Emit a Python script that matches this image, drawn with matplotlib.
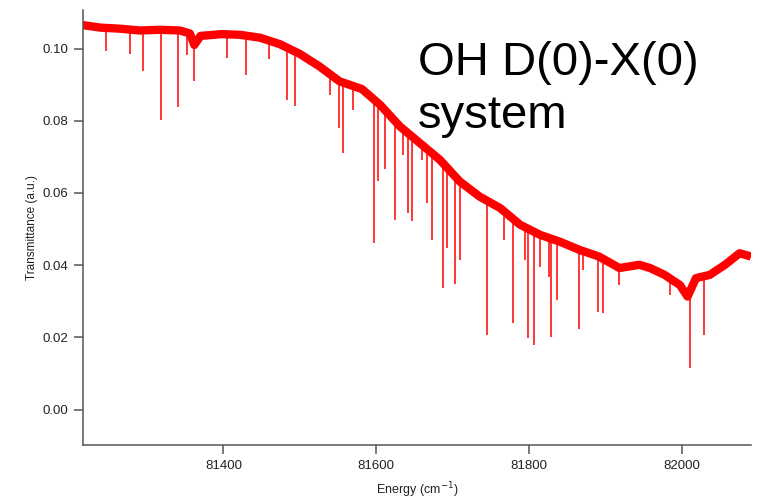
import matplotlib
matplotlib.use('Agg')
import matplotlib.pyplot as plt
import numpy as np

plt.rcParams['font.family'] = ['Liberation Sans', 'DejaVu Sans']

# continuum (centre of the noisy trace)
base_energy = [81216, 81239, 81265, 81291, 81317, 81343, 81356, 81362, 81370,
               81398, 81422, 81448, 81474, 81500, 81526, 81552, 81581, 81605,
               81631, 81657, 81683, 81709, 81735, 81762, 81788, 81814, 81840,
               81866, 81891, 81918, 81944, 81958, 81977, 81997, 82007, 82018,
               82036, 82056, 82075, 82090]
base_trans = [0.1065, 0.1058, 0.1055, 0.1050, 0.1052, 0.1050, 0.1042, 0.1010, 0.1035,
              0.1040, 0.1038, 0.1030, 0.1012, 0.0985, 0.0950, 0.0909, 0.0888, 0.0844,
              0.0784, 0.0738, 0.0692, 0.0632, 0.0590, 0.0558, 0.0512, 0.0484, 0.0465,
              0.0442, 0.0424, 0.0392, 0.0401, 0.0392, 0.0373, 0.0345, 0.0313, 0.0364,
              0.0373, 0.0401, 0.0433, 0.0424]

# absorption lines: position, continuum at the line, bottom of the dip
line_energy = [81246.5, 81277.5, 81295.0, 81319.0, 81340.5, 81352.5, 81361.5, 81404.5,
               81430.0, 81459.5, 81483.5, 81494.0, 81540.0, 81551.5, 81556.0, 81569.0,
               81597.5, 81602.0, 81611.0, 81625.0, 81634.5, 81641.5, 81646.5, 81659.5,
               81666.5, 81673.0, 81687.0, 81693.0, 81702.5, 81709.0, 81744.5, 81766.5,
               81778.5, 81794.0, 81798.5, 81806.0, 81814.5, 81825.5, 81829.0, 81836.0,
               81864.5, 81870.0, 81890.5, 81896.5, 81917.0, 81984.0, 82010.5, 82029.0]
line_top = [0.1057, 0.1052, 0.1050, 0.1052, 0.1050, 0.1045, 0.1010, 0.1040,
            0.1036, 0.1025, 0.1003, 0.0991, 0.0928, 0.0910, 0.0905, 0.0897,
            0.0858, 0.0851, 0.0830, 0.0800, 0.0778, 0.0766, 0.0756, 0.0734,
            0.0722, 0.0710, 0.0683, 0.0670, 0.0648, 0.0632, 0.0578, 0.0550,
            0.0528, 0.0505, 0.0500, 0.0493, 0.0484, 0.0476, 0.0474, 0.0468,
            0.0443, 0.0439, 0.0424, 0.0418, 0.0393, 0.0366, 0.0330, 0.0370]
line_min = [0.0992, 0.0985, 0.0939, 0.0802, 0.0839, 0.0983, 0.0909, 0.0973,
            0.0927, 0.0971, 0.0858, 0.0841, 0.0872, 0.0779, 0.0712, 0.0830,
            0.0461, 0.0632, 0.0666, 0.0525, 0.0706, 0.0544, 0.0521, 0.0692,
            0.0572, 0.0470, 0.0336, 0.0447, 0.0348, 0.0415, 0.0207, 0.0470,
            0.0241, 0.0415, 0.0198, 0.0179, 0.0396, 0.0368, 0.0202, 0.0304,
            0.0224, 0.0387, 0.0271, 0.0267, 0.0345, 0.0318, 0.0115, 0.0207]

x_ticks = [81400, 81600, 81800, 82000]
y_ticks = [0.00, 0.02, 0.04, 0.06, 0.08, 0.10]

fig = plt.figure(figsize=(7.63, 5.01), dpi=100)
ax = fig.add_axes([0.1084, 0.1112, 0.8759, 0.869])

red = '#ff0000'
ax.plot(base_energy, base_trans, color=red, lw=6, solid_joinstyle='round',
        solid_capstyle='butt')
ax.vlines(line_energy, line_min, line_top, color=red, lw=1.1)

ax.set_xlim(81216, 82090)
ax.set_ylim(-0.0099, 0.1107)
ax.set_xticks(x_ticks)
ax.set_yticks(y_ticks)
ax.set_yticklabels([f"{v:.2f}" for v in y_ticks])

for s in ['top', 'right']:
    ax.spines[s].set_visible(False)
for s in ['left', 'bottom']:
    ax.spines[s].set_color('#555555')
    ax.spines[s].set_linewidth(1.1)
ax.tick_params(direction='out', length=6.5, width=1.1, color='#555555',
               labelsize=9.5, labelcolor='#222222', pad=4)

ax.set_xlabel('Energy (cm$^{-1}$)', fontsize=9, color='#222222', labelpad=6)
ax.set_ylabel('Transmittance (a.u.)', fontsize=8.5, color='#222222', labelpad=3)

# va='baseline' on multi-line text sits on the last line's baseline
fig.text(0.548, 0.744, 'OH D(0)-X(0)\nsystem', fontsize=34, va='baseline',
         ha='left', color='black', linespacing=1.27)

fig.savefig('out.png', dpi=100)
